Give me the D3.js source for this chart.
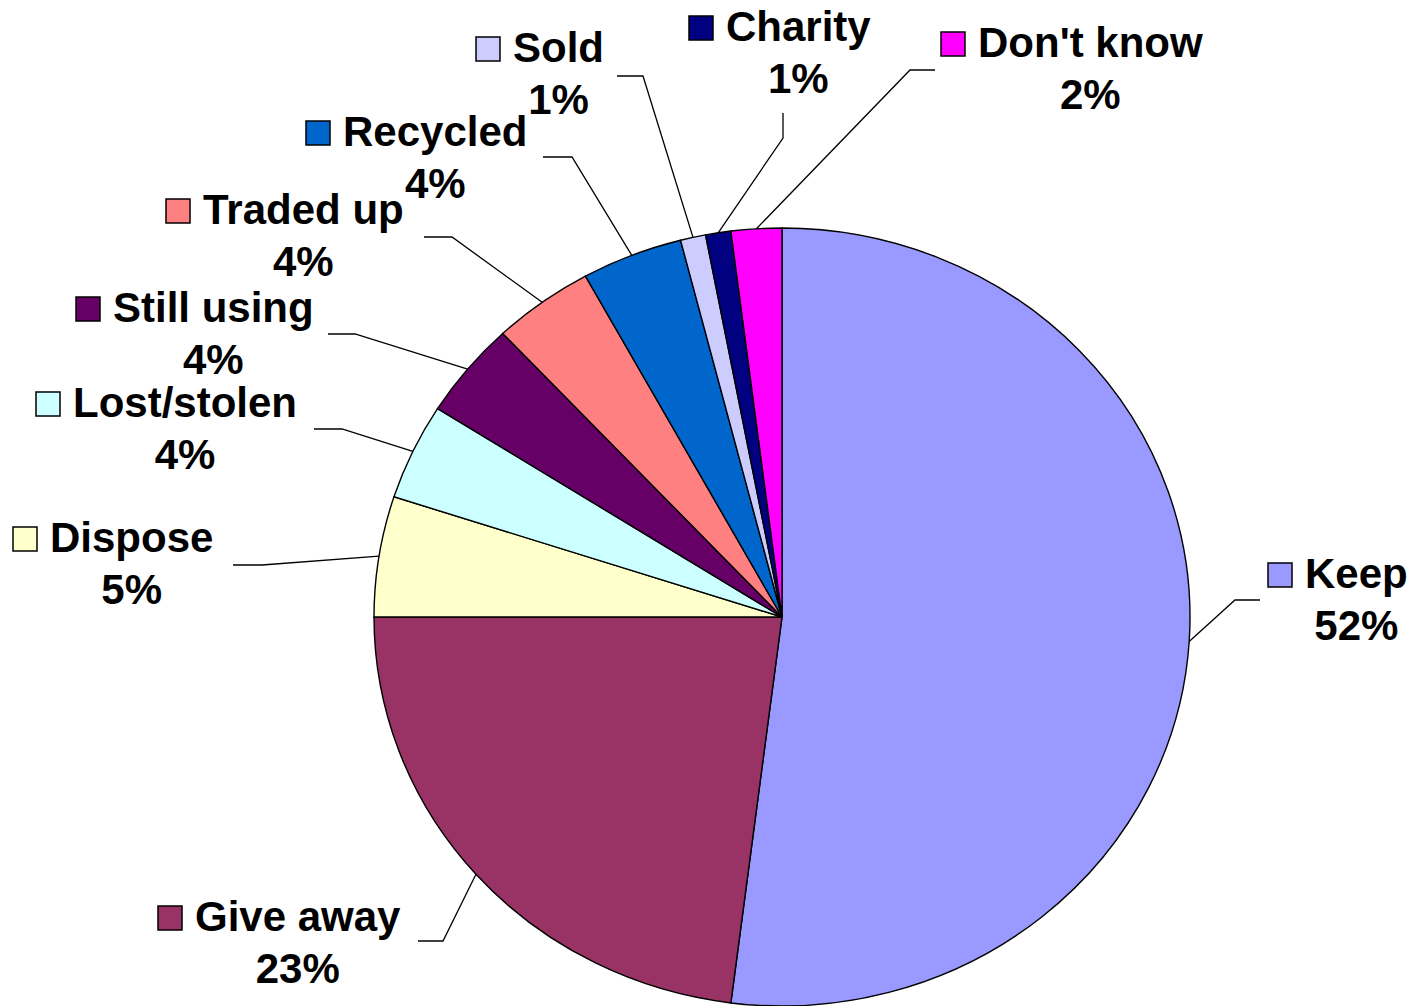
<!DOCTYPE html>
<html>
<head>
<meta charset="utf-8">
<script src="https://cdn.jsdelivr.net/npm/d3@7"></script>
<style>
  body { margin: 0; background: #fff; }
  text { font-family: "Liberation Sans", Arial, sans-serif; font-weight: bold; }
</style>
</head>
<body>
<div id="plt"></div>
<script>
// Pie data, clockwise from 12 o'clock
const categories = ["Keep", "Give away", "Dispose", "Lost/stolen", "Still using",
                    "Traded up", "Recycled", "Sold", "Charity", "Don't know"];
const shares = [52, 23, 5, 4, 4, 4, 4, 1, 1, 2];
const colours = ["#9999FF", "#993366", "#FFFFCC", "#CCFFFF", "#660066",
                 "#FF8080", "#0066CC", "#CCCCFF", "#000080", "#FF00FF"];

// label placement (name start x, baseline y) and leader line start + elbow
const labelPos = [
  [1305, 588], [195, 931], [50, 552], [73, 417], [113, 322],
  [203, 224], [343, 146], [513, 62], [726, 41], [978, 57]
];
const leaderPts = [
  [[1260, 600], [1235, 600]],
  [[418, 941], [443, 941]],
  [[233, 565], [262, 565]],
  [[314, 429], [342, 429]],
  [[328, 334], [355, 334]],
  [[424, 237], [452, 237]],
  [[543, 157], [572, 157]],
  [[617, 76], [643, 76]],
  [[783, 113], [783, 138]],
  [[935, 70], [910, 70]]
];

const width = 1416, height = 1006;
const cx = 782, cy = 617;
const rx = 408, ry = 389;   // the original pie is slightly squashed

const svg = d3.select("#plt")
    .append("svg")
    .attr("width", width)
    .attr("height", height);

const data = categories.map((c, i) => ({ name: c, value: shares[i], colour: colours[i] }));

const pie = d3.pie()
    .value(d => d.value)
    .sort(null);

const arcs = pie(data);

const arc = d3.arc()
    .innerRadius(0)
    .outerRadius(rx);

// Draw slices
svg.append("g")
    .attr("transform", `translate(${cx},${cy}) scale(1,${ry / rx})`)
    .selectAll("path")
    .data(arcs)
    .enter()
    .append("path")
    .attr("d", arc)
    .attr("fill", d => d.data.colour)
    .attr("stroke", "#000")
    .attr("stroke-width", 1.4)
    .attr("vector-effect", "non-scaling-stroke");

// Leader lines from label to the slice edge at its mid angle
const edgePoint = d => {
  const a = (d.startAngle + d.endAngle) / 2;
  return [cx + rx * Math.sin(a), cy - ry * Math.cos(a)];
};

svg.append("g")
    .selectAll("polyline")
    .data(arcs)
    .enter()
    .append("polyline")
    .attr("points", (d, i) => [...leaderPts[i], edgePoint(d)].map(p => p.join(",")).join(" "))
    .attr("fill", "none")
    .attr("stroke", "#000")
    .attr("stroke-width", 1.3);

// Labels: coloured key, name, percentage centred under the name
const label = svg.append("g")
    .selectAll("g")
    .data(arcs)
    .enter()
    .append("g")
    .attr("transform", (d, i) => `translate(${labelPos[i][0]},${labelPos[i][1]})`);

label.append("rect")
    .attr("x", -37)
    .attr("y", -25)
    .attr("width", 24)
    .attr("height", 24)
    .attr("fill", d => d.data.colour)
    .attr("stroke", "#000")
    .attr("stroke-width", 1.5);

const names = label.append("text")
    .attr("x", 0)
    .attr("y", 0)
    .attr("font-size", 42)
    .attr("fill", "#000")
    .text(d => d.data.name);

label.append("text")
    .attr("x", function (d, i) { return names.nodes()[i].getComputedTextLength() / 2; })
    .attr("y", 52)
    .attr("text-anchor", "middle")
    .attr("font-size", 42)
    .attr("fill", "#000")
    .text(d => d.data.value + "%");
</script>
</body>
</html>
